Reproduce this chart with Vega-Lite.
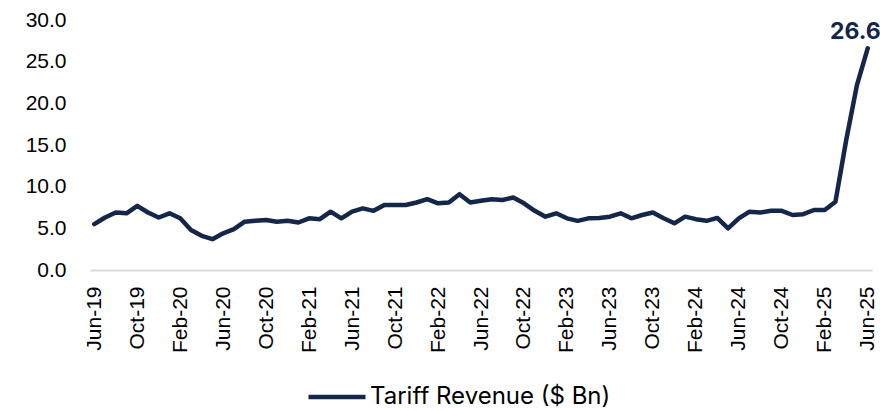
{
  "$schema": "https://vega.github.io/schema/vega-lite/v6.json",
  "autosize": {"type": "none"},
  "width": 782,
  "height": 250,
  "padding": {"left": 90, "top": 20, "right": 8, "bottom": 141},
  "background": "white",
  "config": {
    "view": {"stroke": null},
    "font": "Liberation Sans"
  },
  "data": {
    "values": [
      {"month": "Jun-19", "value": 5.5},
      {"month": "Jul-19", "value": 6.3},
      {"month": "Aug-19", "value": 6.9},
      {"month": "Sep-19", "value": 6.8},
      {"month": "Oct-19", "value": 7.7},
      {"month": "Nov-19", "value": 6.9},
      {"month": "Dec-19", "value": 6.3},
      {"month": "Jan-20", "value": 6.8},
      {"month": "Feb-20", "value": 6.2},
      {"month": "Mar-20", "value": 4.8},
      {"month": "Apr-20", "value": 4.1},
      {"month": "May-20", "value": 3.7},
      {"month": "Jun-20", "value": 4.4},
      {"month": "Jul-20", "value": 4.9},
      {"month": "Aug-20", "value": 5.8},
      {"month": "Sep-20", "value": 5.9},
      {"month": "Oct-20", "value": 6.0},
      {"month": "Nov-20", "value": 5.8},
      {"month": "Dec-20", "value": 5.9},
      {"month": "Jan-21", "value": 5.7},
      {"month": "Feb-21", "value": 6.2},
      {"month": "Mar-21", "value": 6.1},
      {"month": "Apr-21", "value": 7.0},
      {"month": "May-21", "value": 6.2},
      {"month": "Jun-21", "value": 7.0},
      {"month": "Jul-21", "value": 7.4},
      {"month": "Aug-21", "value": 7.1},
      {"month": "Sep-21", "value": 7.8},
      {"month": "Oct-21", "value": 7.8},
      {"month": "Nov-21", "value": 7.8},
      {"month": "Dec-21", "value": 8.1},
      {"month": "Jan-22", "value": 8.5},
      {"month": "Feb-22", "value": 8.0},
      {"month": "Mar-22", "value": 8.1},
      {"month": "Apr-22", "value": 9.1},
      {"month": "May-22", "value": 8.1},
      {"month": "Jun-22", "value": 8.3},
      {"month": "Jul-22", "value": 8.5},
      {"month": "Aug-22", "value": 8.4},
      {"month": "Sep-22", "value": 8.7},
      {"month": "Oct-22", "value": 8.0},
      {"month": "Nov-22", "value": 7.1},
      {"month": "Dec-22", "value": 6.4},
      {"month": "Jan-23", "value": 6.8},
      {"month": "Feb-23", "value": 6.2},
      {"month": "Mar-23", "value": 5.9},
      {"month": "Apr-23", "value": 6.2},
      {"month": "May-23", "value": 6.25},
      {"month": "Jun-23", "value": 6.4},
      {"month": "Jul-23", "value": 6.8},
      {"month": "Aug-23", "value": 6.2},
      {"month": "Sep-23", "value": 6.6},
      {"month": "Oct-23", "value": 6.9},
      {"month": "Nov-23", "value": 6.2},
      {"month": "Dec-23", "value": 5.6},
      {"month": "Jan-24", "value": 6.4},
      {"month": "Feb-24", "value": 6.1},
      {"month": "Mar-24", "value": 5.9},
      {"month": "Apr-24", "value": 6.25},
      {"month": "May-24", "value": 5.0},
      {"month": "Jun-24", "value": 6.2},
      {"month": "Jul-24", "value": 7.0},
      {"month": "Aug-24", "value": 6.9},
      {"month": "Sep-24", "value": 7.1},
      {"month": "Oct-24", "value": 7.1},
      {"month": "Nov-24", "value": 6.6},
      {"month": "Dec-24", "value": 6.7},
      {"month": "Jan-25", "value": 7.2},
      {"month": "Feb-25", "value": 7.2},
      {"month": "Mar-25", "value": 8.2},
      {"month": "Apr-25", "value": 15.6},
      {"month": "May-25", "value": 22.2},
      {"month": "Jun-25", "value": 26.6}
    ]
  },
  "encoding": {
    "x": {
      "field": "month",
      "type": "ordinal",
      "sort": null,
      "scale": {"type": "point", "padding": 0.4},
      "axis": {
        "title": null,
        "labelAngle": -90,
        "labelAlign": "right",
        "labelBaseline": "middle",
        "labelFontSize": 21,
        "labelColor": "#000000",
        "labelPadding": 16,
        "ticks": false,
        "domainColor": "#d9d9d9",
        "domainWidth": 2,
        "labelExpr": "indexof(['Jun','Oct','Feb'], slice(datum.label, 0, 3)) >= 0 ? datum.label : ''"
      }
    },
    "y": {
      "field": "value",
      "type": "quantitative",
      "scale": {"domain": [0, 30], "nice": false},
      "axis": {
        "title": null,
        "values": [0, 5, 10, 15, 20, 25, 30],
        "format": ".1f",
        "labelFontSize": 21,
        "labelColor": "#000000",
        "labelPadding": 24,
        "ticks": false,
        "domain": false,
        "grid": false
      }
    }
  },
  "layer": [
    {
      "mark": {"type": "line", "strokeWidth": 4.5, "strokeCap": "round", "strokeJoin": "round"},
      "encoding": {
        "color": {
          "datum": "Tariff Revenue ($ Bn)",
          "type": "nominal",
          "scale": {"range": ["#14264A"]},
          "legend": {
            "title": null,
            "orient": "none",
            "legendX": 216,
            "legendY": 346,
            "padding": 0,
            "symbolType": "stroke",
            "symbolStrokeWidth": 4.5,
            "symbolSize": 3250,
            "labelFont": "Inter",
            "labelFontSize": 24,
            "labelLimit": 500,
            "labelColor": "#000000",
            "labelOffset": 2
          }
        }
      }
    },
    {
      "transform": [{"filter": "datum.month == 'Jun-25'"}],
      "mark": {
        "type": "text",
        "font": "Inter",
        "fontWeight": "bold",
        "fontSize": 23,
        "align": "right",
        "baseline": "alphabetic",
        "dx": 13,
        "dy": -9,
        "color": "#14264A"
      },
      "encoding": {
        "text": {"field": "value", "type": "quantitative", "format": ".1f"}
      }
    }
  ]
}
